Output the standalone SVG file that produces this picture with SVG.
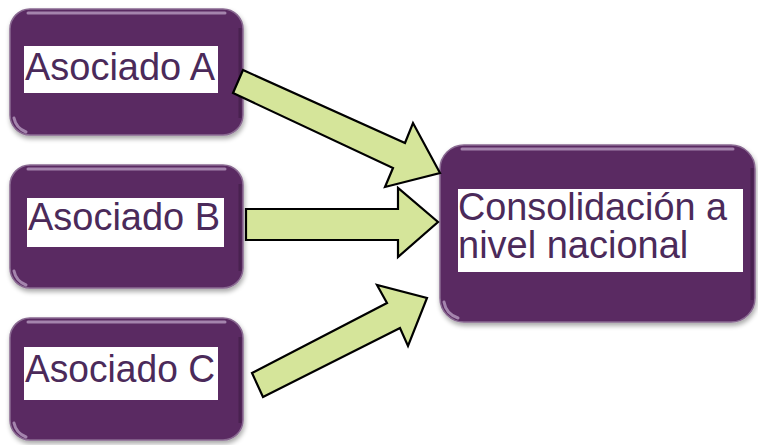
<svg xmlns="http://www.w3.org/2000/svg" width="758" height="445" viewBox="0 0 758 445">
  <defs>
    <style>
      .box { fill: #5a2c62; stroke: #8a6a92; stroke-width: 1.5; }
      .gloss { fill: none; stroke: #b79bc0; stroke-width: 3; stroke-linecap: round; opacity: 0.8; }
      .edge { fill: none; stroke: #3e1c45; stroke-width: 3; opacity: 0.6; }
      .label-bg { fill: #ffffff; }
      .label { font-family: "Liberation Sans", Arial, sans-serif; font-size: 38px; fill: #4b2a5a; }
      .arrow { fill: #d5e59a; stroke: #000000; stroke-width: 2.2; stroke-linejoin: miter; }
    </style>
    <filter id="shadow" x="-10%" y="-10%" width="125%" height="130%">
      <feGaussianBlur in="SourceAlpha" stdDeviation="2.5"/>
      <feOffset dx="1" dy="3" result="b"/>
      <feComponentTransfer><feFuncA type="linear" slope="0.35"/></feComponentTransfer>
      <feMerge><feMergeNode/><feMergeNode in="SourceGraphic"/></feMerge>
    </filter>
  </defs>

  <rect width="758" height="445" fill="#ffffff"/>

  <!-- Asociado A -->
  <g id="node-a">
    <rect class="box" x="10" y="9" width="233" height="126" rx="20" filter="url(#shadow)"/>
    <path class="gloss" d="M28 13 H225"/>
    <path class="gloss" d="M14 118 Q16 128 26 132"/>
    <path class="edge" d="M240 28 V118"/>
    <rect class="label-bg" x="24" y="46" width="194" height="47"/>
    <text class="label" x="25" y="80" textLength="190" lengthAdjust="spacingAndGlyphs">Asociado A</text>
  </g>

  <!-- Asociado B -->
  <g id="node-b">
    <rect class="box" x="10" y="165" width="233" height="123" rx="20" filter="url(#shadow)"/>
    <path class="gloss" d="M28 169 H225"/>
    <path class="gloss" d="M14 271 Q16 281 26 285"/>
    <path class="edge" d="M240 184 V271"/>
    <rect class="label-bg" x="27" y="198" width="197" height="49"/>
    <text class="label" x="28" y="230" textLength="192" lengthAdjust="spacingAndGlyphs">Asociado B</text>
  </g>

  <!-- Asociado C -->
  <g id="node-c">
    <rect class="box" x="10" y="318" width="233" height="122" rx="20" filter="url(#shadow)"/>
    <path class="gloss" d="M28 322 H225"/>
    <path class="gloss" d="M14 423 Q16 433 26 437"/>
    <path class="edge" d="M240 337 V423"/>
    <rect class="label-bg" x="24" y="347" width="194" height="53"/>
    <text class="label" x="25" y="382" textLength="190" lengthAdjust="spacingAndGlyphs">Asociado C</text>
  </g>

  <!-- Consolidación a nivel nacional -->
  <g id="node-consolidacion">
    <rect class="box" x="440" y="145" width="315" height="177" rx="24" filter="url(#shadow)"/>
    <path class="gloss" d="M462 149 H733"/>
    <path class="gloss" d="M444 302 Q446 314 458 318"/>
    <path class="edge" d="M752 168 V300"/>
    <rect class="label-bg" x="458" y="189" width="285" height="83"/>
    <text class="label" x="458" y="220" textLength="269" lengthAdjust="spacingAndGlyphs">Consolidación a</text>
    <text class="label" x="458" y="258">nivel nacional</text>
  </g>

  <!-- Block arrows -->
  <g id="connectors">
    <polygon class="arrow" points="243,70 405,143 413,123 440,173 385,187 393,168 233,93"/>
    <polygon class="arrow" points="246,209 398,209 398,188 438,222 398,257 398,240 246,240"/>
    <polygon class="arrow" points="252,373 387,303 377,285 427,298 408,346 400,328 263,397"/>
  </g>
</svg>
